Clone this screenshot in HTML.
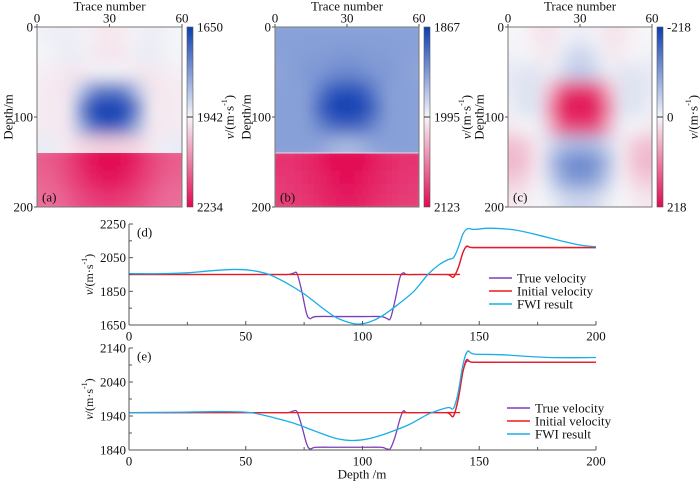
<!DOCTYPE html>
<html><head><meta charset="utf-8"><style>
body{margin:0;background:#fff}
svg{display:block;font-family:"Liberation Serif","DejaVu Serif","Times New Roman",serif}
text{font-family:"Liberation Serif","DejaVu Serif","Times New Roman",serif}
</style></head><body>
<svg id="s" width="700" height="481" viewBox="0 0 700 481" xmlns="http://www.w3.org/2000/svg">
<defs>
<filter id="bl" x="0" y="0" width="1" height="1"><feGaussianBlur stdDeviation="7 8" edgeMode="duplicate"/></filter>
</defs>
</svg>
<script>
// ---------- heatmap data (velocity, m/s) ----------
const traceCenters=[2.5,7.5,12.5,17.5,22.5,27.5,32.5,37.5,42.5,47.5,52.5,57.5];
const upperDepths=[10,30,50,70,90,110,130];
const lowerDepths=[150,170,190];
const allDepths=[10,30,50,70,90,110,130,150,170,190];
const aUpper=[
[1935,1930,1930,1935,1950,1960,1960,1950,1935,1930,1935,1940],
[1940,1935,1925,1930,1955,1965,1965,1955,1930,1925,1935,1940],
[1950,1955,1960,1960,1950,1940,1940,1950,1960,1960,1955,1950],
[1955,1960,1965,1880,1780,1740,1740,1780,1880,1965,1960,1955],
[1955,1960,1950,1780,1660,1650,1650,1665,1780,1950,1960,1955],
[1955,1960,1960,1840,1730,1690,1690,1740,1850,1960,1960,1955],
[1925,1930,1960,1975,1985,1990,1990,1985,1975,1960,1930,1925]];
const aLower=[
[2130,2140,2160,2190,2220,2234,2234,2220,2190,2160,2140,2130],
[2120,2130,2150,2175,2200,2215,2215,2200,2175,2150,2130,2120],
[2110,2115,2130,2150,2165,2175,2175,2165,2150,2130,2115,2110]];
const bUpper=[
[1935,1935,1935,1935,1935,1935,1935,1935,1935,1935,1935,1935],
[1935,1935,1933,1933,1932,1930,1930,1932,1933,1933,1935,1935],
[1938,1935,1930,1930,1925,1920,1920,1925,1930,1930,1935,1938],
[1935,1935,1935,1918,1892,1882,1882,1892,1918,1935,1935,1935],
[1935,1935,1935,1900,1872,1867,1867,1875,1902,1935,1935,1935],
[1935,1935,1935,1922,1902,1892,1892,1902,1922,1935,1935,1935],
[1935,1935,1935,1937,1945,1952,1952,1945,1937,1935,1935,1935]];
const bLower=[
[2100,2100,2105,2110,2118,2123,2123,2118,2110,2105,2100,2100],
[2097,2098,2102,2107,2113,2118,2118,2113,2107,2102,2098,2097],
[2095,2096,2099,2103,2108,2112,2112,2108,2103,2099,2096,2095]];
const cGrid=[
[0,5,15,20,5,-10,-10,5,20,15,5,0],
[-5,0,10,10,-15,-35,-35,-15,10,10,0,-5],
[-15,-20,-20,-10,-30,-50,-50,-30,-10,-20,-20,-15],
[-15,-25,-20,60,150,180,180,150,60,-20,-25,-15],
[-10,-25,-20,100,210,218,218,200,100,-20,-25,-10],
[10,0,-10,60,150,170,170,150,60,-10,0,10],
[50,40,10,-30,-60,-70,-70,-60,-30,10,40,50],
[60,50,10,-60,-110,-130,-130,-110,-60,10,50,60],
[40,30,5,-40,-90,-110,-110,-90,-40,5,30,40],
[15,10,0,-10,-30,-40,-40,-30,-10,0,10,15]];
const cbarA=["1650","1942","2234"], cbarB=["1867","1995","2123"], cbarC=["-218","0","218"];

// ---------- line chart data ----------
const dTrueX=[0,60,68,70.5,72,74,76,77.5,80,90,100,108,110.5,112,114,116,117.5,119,125,135,137,139,141,143,144.5,146,148,160,200];
const dTrueY=[1950,1950,1950,1958,1955,1850,1720,1688,1700,1700,1700,1700,1688,1690,1800,1930,1960,1950,1950,1950,1948,1935,1990,2080,2115,2112,2110,2110,2110];
const dInitX=[0,130,136,137.5,139,141,143,144.5,146,148,160,200];
const dInitY=[1950,1950,1950,1945,1935,1990,2080,2118,2112,2110,2110,2110];
const dFwiX=[0,15,25,35,45,52,60,68,75,82,88,93,98,103,108,115,122,128,133,137,139,141,143,145,148,155,165,175,185,193,200];
const dFwiY=[1955,1955,1960,1972,1980,1975,1950,1895,1835,1760,1700,1670,1655,1668,1700,1770,1850,1950,2010,2040,2050,2110,2190,2222,2218,2225,2215,2185,2150,2125,2115];
const eTrueX=[0,60,68,70.5,72,74,76,77.5,80,90,100,108,110.5,112,114,116,117.5,119,125,135,137,139,141,143,144.5,146,148,160,200];
const eTrueY=[1950,1950,1950,1955,1952,1910,1860,1843,1848,1848,1848,1848,1843,1845,1880,1930,1955,1950,1950,1950,1948,1940,1990,2070,2100,2100,2098,2098,2098];
const eInitX=[0,130,136,137.5,139,141,143,144.5,146,148,160,200];
const eInitY=[1950,1950,1950,1945,1940,1990,2070,2105,2100,2098,2098,2098];
const eFwiX=[0,20,40,52,62,70,78,85,90,95,100,105,112,120,128,133,137,139,141,143,145,148,160,180,200];
const eFwiY=[1950,1951,1953,1950,1935,1920,1900,1882,1872,1868,1870,1877,1893,1915,1945,1958,1965,1963,2010,2090,2130,2122,2120,2112,2112];
const dTicks=[1650,1850,2050,2250], eTicks=[1840,1940,2040,2140], xTicks=[0,50,100,150,200];
const legendLabels=["True velocity","Initial velocity","FWI result"];

const S=document.getElementById('s');
const NS='http://www.w3.org/2000/svg';
function mk(tag,attrs,parent){const e=document.createElementNS(NS,tag);for(const k in attrs)e.setAttribute(k,attrs[k]);(parent||S).appendChild(e);return e;}
function txt(x,y,s,anchor,size,parent){const t=mk('text',{x:x,y:y,'text-anchor':anchor||'middle','font-size':size||13,'dominant-baseline':'central',fill:'#111'},parent);t.textContent=s;return t;}

function cmap(v,lo,hi){
  const mid=(lo+hi)/2,half=(hi-lo)/2;let t=(v-mid)/half;t=Math.max(-1,Math.min(1,t));
  const w=[246,246,249];let c;
  if(t<0){const b=[12,62,178],u=-t;c=w.map((x,i)=>x+(b[i]-x)*u);}
  else{const r=[226,8,82];c=w.map((x,i)=>x+(r[i]-x)*t);}
  return 'rgb('+c.map(Math.round).join(',')+')';
}

function heat(id,x0,y0,w,h,lo,hi,grids,cbar,label,splitDepth,vOff){
  const g=mk('g',{});
  
  
  const sx=t=>x0+t/60*w, sy=d=>y0+d/200*h;
  const cw=w/12;
  grids.forEach((gr,gi)=>{
    const d0=gr.d0,d1=gr.d1;
    const cp=mk('clipPath',{id:'cp'+id+gi},g);
    mk('rect',{x:x0,y:sy(d0),width:w,height:sy(d1)-sy(d0)},cp);
    const outer=mk('g',{'clip-path':'url(#cp'+id+gi+')'},g);
    const inner=mk('g',{filter:'url(#bl)'},outer);
    const rh=(sy(d1)-sy(d0))/gr.vals.length;
    gr.vals.forEach((row,ri)=>{
      row.forEach((v,ci)=>{
        const r=mk('rect',{x:sx(traceCenters[ci])-cw/2-(ci==0?12:0),y:sy(d0)+ri*rh-(ri==0?12:0),width:cw+(ci==0||ci==11?12:0)+0.5,height:rh+(ri==0||ri==gr.vals.length-1?12:0)+0.5,fill:cmap(v,lo,hi)},inner);
        
        
      });
    });
  });
  if(splitDepth){mk('line',{x1:x0,x2:x0+w,y1:sy(splitDepth),y2:sy(splitDepth),stroke:'#dde0ee','stroke-width':1},g);}
  mk('rect',{x:x0,y:y0,width:w,height:h,fill:'none',stroke:'#777','stroke-width':1},g);
  [0,30,60].forEach(t=>{mk('line',{x1:sx(t),x2:sx(t),y1:y0,y2:y0-3,stroke:'#555'},g);txt(sx(t),y0-9,String(t),'middle',13,g);});
  [0,100,200].forEach(d=>{mk('line',{x1:x0,x2:x0-3,y1:sy(d),y2:sy(d),stroke:'#555'},g);txt(x0-4,sy(d),String(d),'end',13,g);});
  const tt=txt(x0+w/2,y0-21,'Trace number','middle',13,g);
  
  const yl=txt(0,0,'Depth/m','middle',13,g);yl.setAttribute('transform','translate('+(x0-29)+','+(y0+h/2)+') rotate(-90)');
  
  txt(x0+5,y0+h-10,label,'start',13,g);
  const cb=mk('g',{},g);
  
  
  const cx=x0+w+5;
  const gid='cg'+id;
  const lg=mk('linearGradient',{id:gid,x1:0,y1:0,x2:0,y2:1},cb);
  for(let i=0;i<=10;i++){mk('stop',{offset:i/10,'stop-color':cmap(lo+(hi-lo)*i/10,lo,hi)},lg);}
  mk('rect',{x:cx,y:y0,width:6,height:h,fill:'url(#'+gid+')',stroke:'#555','stroke-width':0.6},cb);
  cbar.forEach((s,i)=>{const yy=y0+h*i/2;if(i==1)mk('line',{x1:cx,x2:cx+6,y1:yy,y2:yy,stroke:'#333'},cb);txt(cx+10,yy,s,'start',13,cb);});
  const vl=mk('text',{'text-anchor':'middle','font-size':13,'dominant-baseline':'central',transform:'translate('+(cx+vOff)+','+(y0+h/2)+') rotate(-90)',fill:'#111'},cb);
  vl.innerHTML='<tspan font-style="italic">v</tspan>/(m·s<tspan baseline-shift="super" font-size="8">-1</tspan>)';
  
}

heat('a',37,27,145,180,1650,2234,[{d0:0,d1:140,vals:aUpper},{d0:140,d1:200,vals:aLower}],cbarA,'(a)',0,42);
heat('b',275,27,144,180,1867,2123,[{d0:0,d1:140,vals:bUpper},{d0:140,d1:200,vals:bLower}],cbarB,'(b)',140,42);
heat('c',508,27,144,180,-218,218,[{d0:0,d1:200,vals:cGrid}],cbarC,'(c)',0,36);

function path(xs,ys,sx,sy){
  const P=xs.map((x,i)=>[sx(x),sy(ys[i])]);
  let d='M'+P[0][0].toFixed(2)+','+P[0][1].toFixed(2);
  for(let i=0;i<P.length-1;i++){
    const p0=P[Math.max(0,i-1)],p1=P[i],p2=P[i+1],p3=P[Math.min(P.length-1,i+2)];
    const c1=[p1[0]+(p2[0]-p0[0])/6,p1[1]+(p2[1]-p0[1])/6];
    const c2=[p2[0]-(p3[0]-p1[0])/6,p2[1]-(p3[1]-p1[1])/6];
    d+='C'+c1.map(v=>v.toFixed(2)).join(',')+' '+c2.map(v=>v.toFixed(2)).join(',')+' '+p2[0].toFixed(2)+','+p2[1].toFixed(2);
  }
  return d;
}
function lineChart(id,top,bottom,ticks,series,label,legX,legY){
  const g=mk('g',{});
  
  
  const x0=129,x1=596;
  const lo=ticks[0],hi=ticks[ticks.length-1];
  const sx=v=>x0+v/200*(x1-x0), sy=v=>bottom-(v-lo)/(hi-lo)*(bottom-top);
  const cols=['#7a3fb8','#f01818','#1aaee8'];
  [0,1,2].forEach(k=>{
    const s=series[k];
    const p=mk('path',{d:path(s[0],s[1],sx,sy),fill:'none',stroke:cols[k],'stroke-width':1.3},g);
    
    
  });
  const ax=mk('g',{},g);
  
  
  mk('line',{x1:x0,x2:x0,y1:top,y2:bottom,stroke:'#555'},ax);
  mk('line',{x1:x0,x2:x1,y1:bottom,y2:bottom,stroke:'#555'},ax);
  ticks.forEach((t,i)=>{mk('line',{x1:x0,x2:x0+4,y1:sy(t),y2:sy(t),stroke:'#555'},ax);txt(x0-3,sy(t),String(t),'end',13,ax);
    if(i<ticks.length-1){const m=(t+ticks[i+1])/2;mk('line',{x1:x0,x2:x0+3,y1:sy(m),y2:sy(m),stroke:'#555'},ax);}});
  xTicks.forEach((t,i)=>{mk('line',{x1:sx(t),x2:sx(t),y1:bottom,y2:bottom-4,stroke:'#555'},ax);txt(sx(t),bottom+11,String(t),'middle',13,ax);
    if(i<xTicks.length-1){const m=t+25;mk('line',{x1:sx(m),x2:sx(m),y1:bottom,y2:bottom-3,stroke:'#555'},ax);}});
  const vl=mk('text',{'text-anchor':'middle','font-size':12,'dominant-baseline':'central',transform:'translate(89,'+((top+bottom)/2)+') rotate(-90)',fill:'#111'},ax);
  vl.innerHTML='<tspan font-style="italic">v</tspan>/(m·s<tspan baseline-shift="super" font-size="8">-1</tspan>)';
  
  txt(137,top+8,label,'start',13,ax);
  const lgd=mk('g',{},g);
  
  
  legendLabels.forEach((s,k)=>{const yy=legY+k*13;
    const en=mk('g',{},lgd);
    
    
    mk('line',{x1:legX,x2:legX+23,y1:yy,y2:yy,stroke:cols[k],'stroke-width':1.5},en);txt(legX+28,yy,s,'start',13,en);});
}
lineChart('d',224,325,dTicks,[[dTrueX,dTrueY],[dInitX,dInitY],[dFwiX,dFwiY]],'(d)',489,278);
lineChart('e',348,450,eTicks,[[eTrueX,eTrueY],[eInitX,eInitY],[eFwiX,eFwiY]],'(e)',507,408);
const xt=txt(362,474,'Depth /m','middle',13);


</script>
</body></html>
